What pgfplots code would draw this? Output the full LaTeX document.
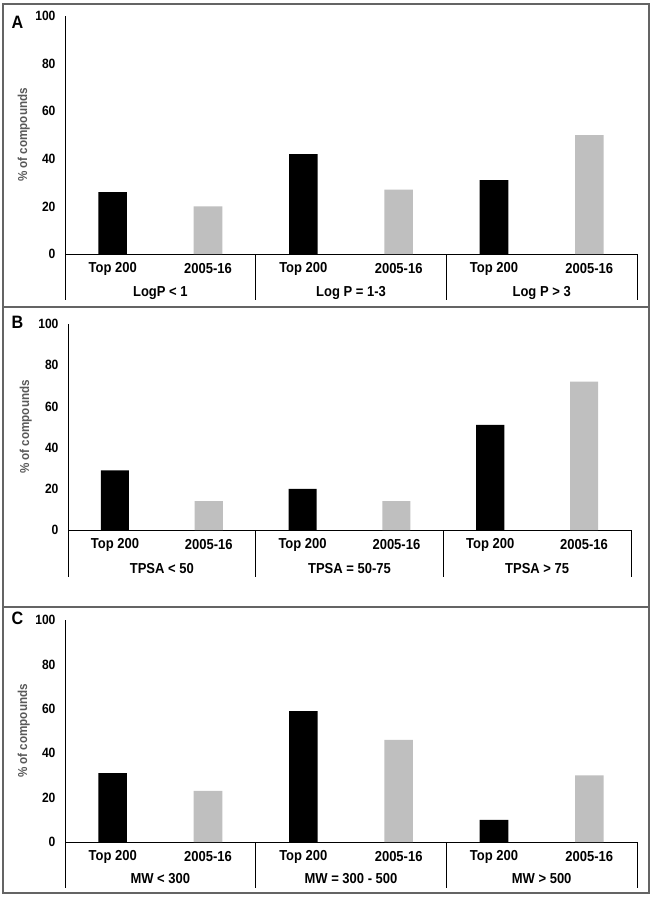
\documentclass[border=0pt]{standalone}
\usepackage{fontspec}
\setmainfont{Liberation Sans}[FakeStretch=0.9]
\usepackage{pgfplots}
\pgfplotsset{compat=1.18}
\definecolor{barg}{RGB}{191,191,191}
\definecolor{labg}{RGB}{89,89,89}
\definecolor{boxg}{RGB}{100,100,100}
\tikzset{
 sep/.style={line width=0.8bp, black},
 grp/.style={font=\bfseries\fontsize{14.5}{14.5}\selectfont},
}
\pgfplotsset{
 panel/.style={
  scale only axis, width=572bp,
  xmin=-0.5, xmax=5.5, ymin=0, ymax=100,
  axis x line=bottom, axis y line=left,
  axis line style={-, black, line width=0.8bp},
  ytick={0,20,...,100}, major tick length=0pt,
  xtick={0,...,5},
  xticklabels={Top 200,2005-16,Top 200,2005-16,Top 200,2005-16},
  xticklabel style={anchor=center, yshift=-15bp, font=\bfseries\fontsize{14.5}{14.5}\selectfont},
  yticklabel style={anchor=east, xshift=-6bp, font=\bfseries\fontsize{13.5}{13.5}\selectfont},
  /pgf/number format/assume math mode=true,
  ylabel={\% of compounds},
  ylabel style={at={(axis description cs:-0.072,0.5)}, anchor=center, font=\bfseries\fontsize{13}{13}\selectfont, text=labg},
  clip=false,
  ybar, bar width=0.3,
 },
}
\begin{document}
\begin{tikzpicture}
\useasboundingbox (0,0) rectangle (652bp,-897bp);
\draw[line width=1.5bp, boxg] (3bp,-4bp) rectangle (649bp,-307bp);
\draw[line width=1.5bp, boxg] (3bp,-307bp) rectangle (649bp,-607bp);
\draw[line width=1.5bp, boxg] (3bp,-607bp) rectangle (649bp,-893bp);
\node[font=\bfseries\fontsize{18}{18}\selectfont] at (17.5bp,-22bp) {A};
\node[font=\bfseries\fontsize{18}{18}\selectfont] at (17.5bp,-322bp) {B};
\node[font=\bfseries\fontsize{18}{18}\selectfont] at (17.5bp,-618bp) {C};

% Panel A
\begin{axis}[panel, height=238bp, at={(65bp,-254bp)}, anchor=south west]
\addplot[fill=black, draw=none, bar shift=0pt] coordinates {(0,26) (2,42) (4,31)};
\addplot[fill=barg, draw=none, bar shift=0pt] coordinates {(1,20) (3,27) (5,50)};
\draw[sep] (axis cs:-0.5,0) -- ++(0bp,-46bp);
\draw[sep] (axis cs:1.5,0) -- ++(0bp,-46bp);
\draw[sep] (axis cs:3.5,0) -- ++(0bp,-46bp);
\draw[sep] (axis cs:5.5,0) -- ++(0bp,-46bp);
\node[grp] at ([yshift=-39bp]axis cs:0.5,0) {LogP < 1};
\node[grp] at ([yshift=-39bp]axis cs:2.5,0) {Log P = 1-3};
\node[grp] at ([yshift=-39bp]axis cs:4.5,0) {Log P > 3};
\end{axis}

% Panel B
\begin{axis}[panel, width=563bp, height=206bp, at={(68bp,-530bp)}, anchor=south west,
  ylabel style={at={(axis description cs:-0.075,0.5)}}]
\addplot[fill=black, draw=none, bar shift=0pt] coordinates {(0,29) (2,20) (4,51)};
\addplot[fill=barg, draw=none, bar shift=0pt] coordinates {(1,14) (3,14) (5,72)};
\draw[sep] (axis cs:-0.5,0) -- ++(0bp,-47bp);
\draw[sep] (axis cs:1.5,0) -- ++(0bp,-47bp);
\draw[sep] (axis cs:3.5,0) -- ++(0bp,-47bp);
\draw[sep] (axis cs:5.5,0) -- ++(0bp,-47bp);
\node[grp] at ([yshift=-39bp]axis cs:0.5,0) {TPSA < 50};
\node[grp] at ([yshift=-39bp]axis cs:2.5,0) {TPSA = 50-75};
\node[grp] at ([yshift=-39bp]axis cs:4.5,0) {TPSA > 75};
\end{axis}

% Panel C
\begin{axis}[panel, height=222bp, at={(65bp,-842bp)}, anchor=south west]
\addplot[fill=black, draw=none, bar shift=0pt] coordinates {(0,31) (2,59) (4,10)};
\addplot[fill=barg, draw=none, bar shift=0pt] coordinates {(1,23) (3,46) (5,30)};
\draw[sep] (axis cs:-0.5,0) -- ++(0bp,-46bp);
\draw[sep] (axis cs:1.5,0) -- ++(0bp,-46bp);
\draw[sep] (axis cs:3.5,0) -- ++(0bp,-46bp);
\draw[sep] (axis cs:5.5,0) -- ++(0bp,-46bp);
\node[grp] at ([yshift=-37bp]axis cs:0.5,0) {MW < 300};
\node[grp] at ([yshift=-37bp]axis cs:2.5,0) {MW = 300 - 500};
\node[grp] at ([yshift=-37bp]axis cs:4.5,0) {MW > 500};
\end{axis}
\end{tikzpicture}
\end{document}
